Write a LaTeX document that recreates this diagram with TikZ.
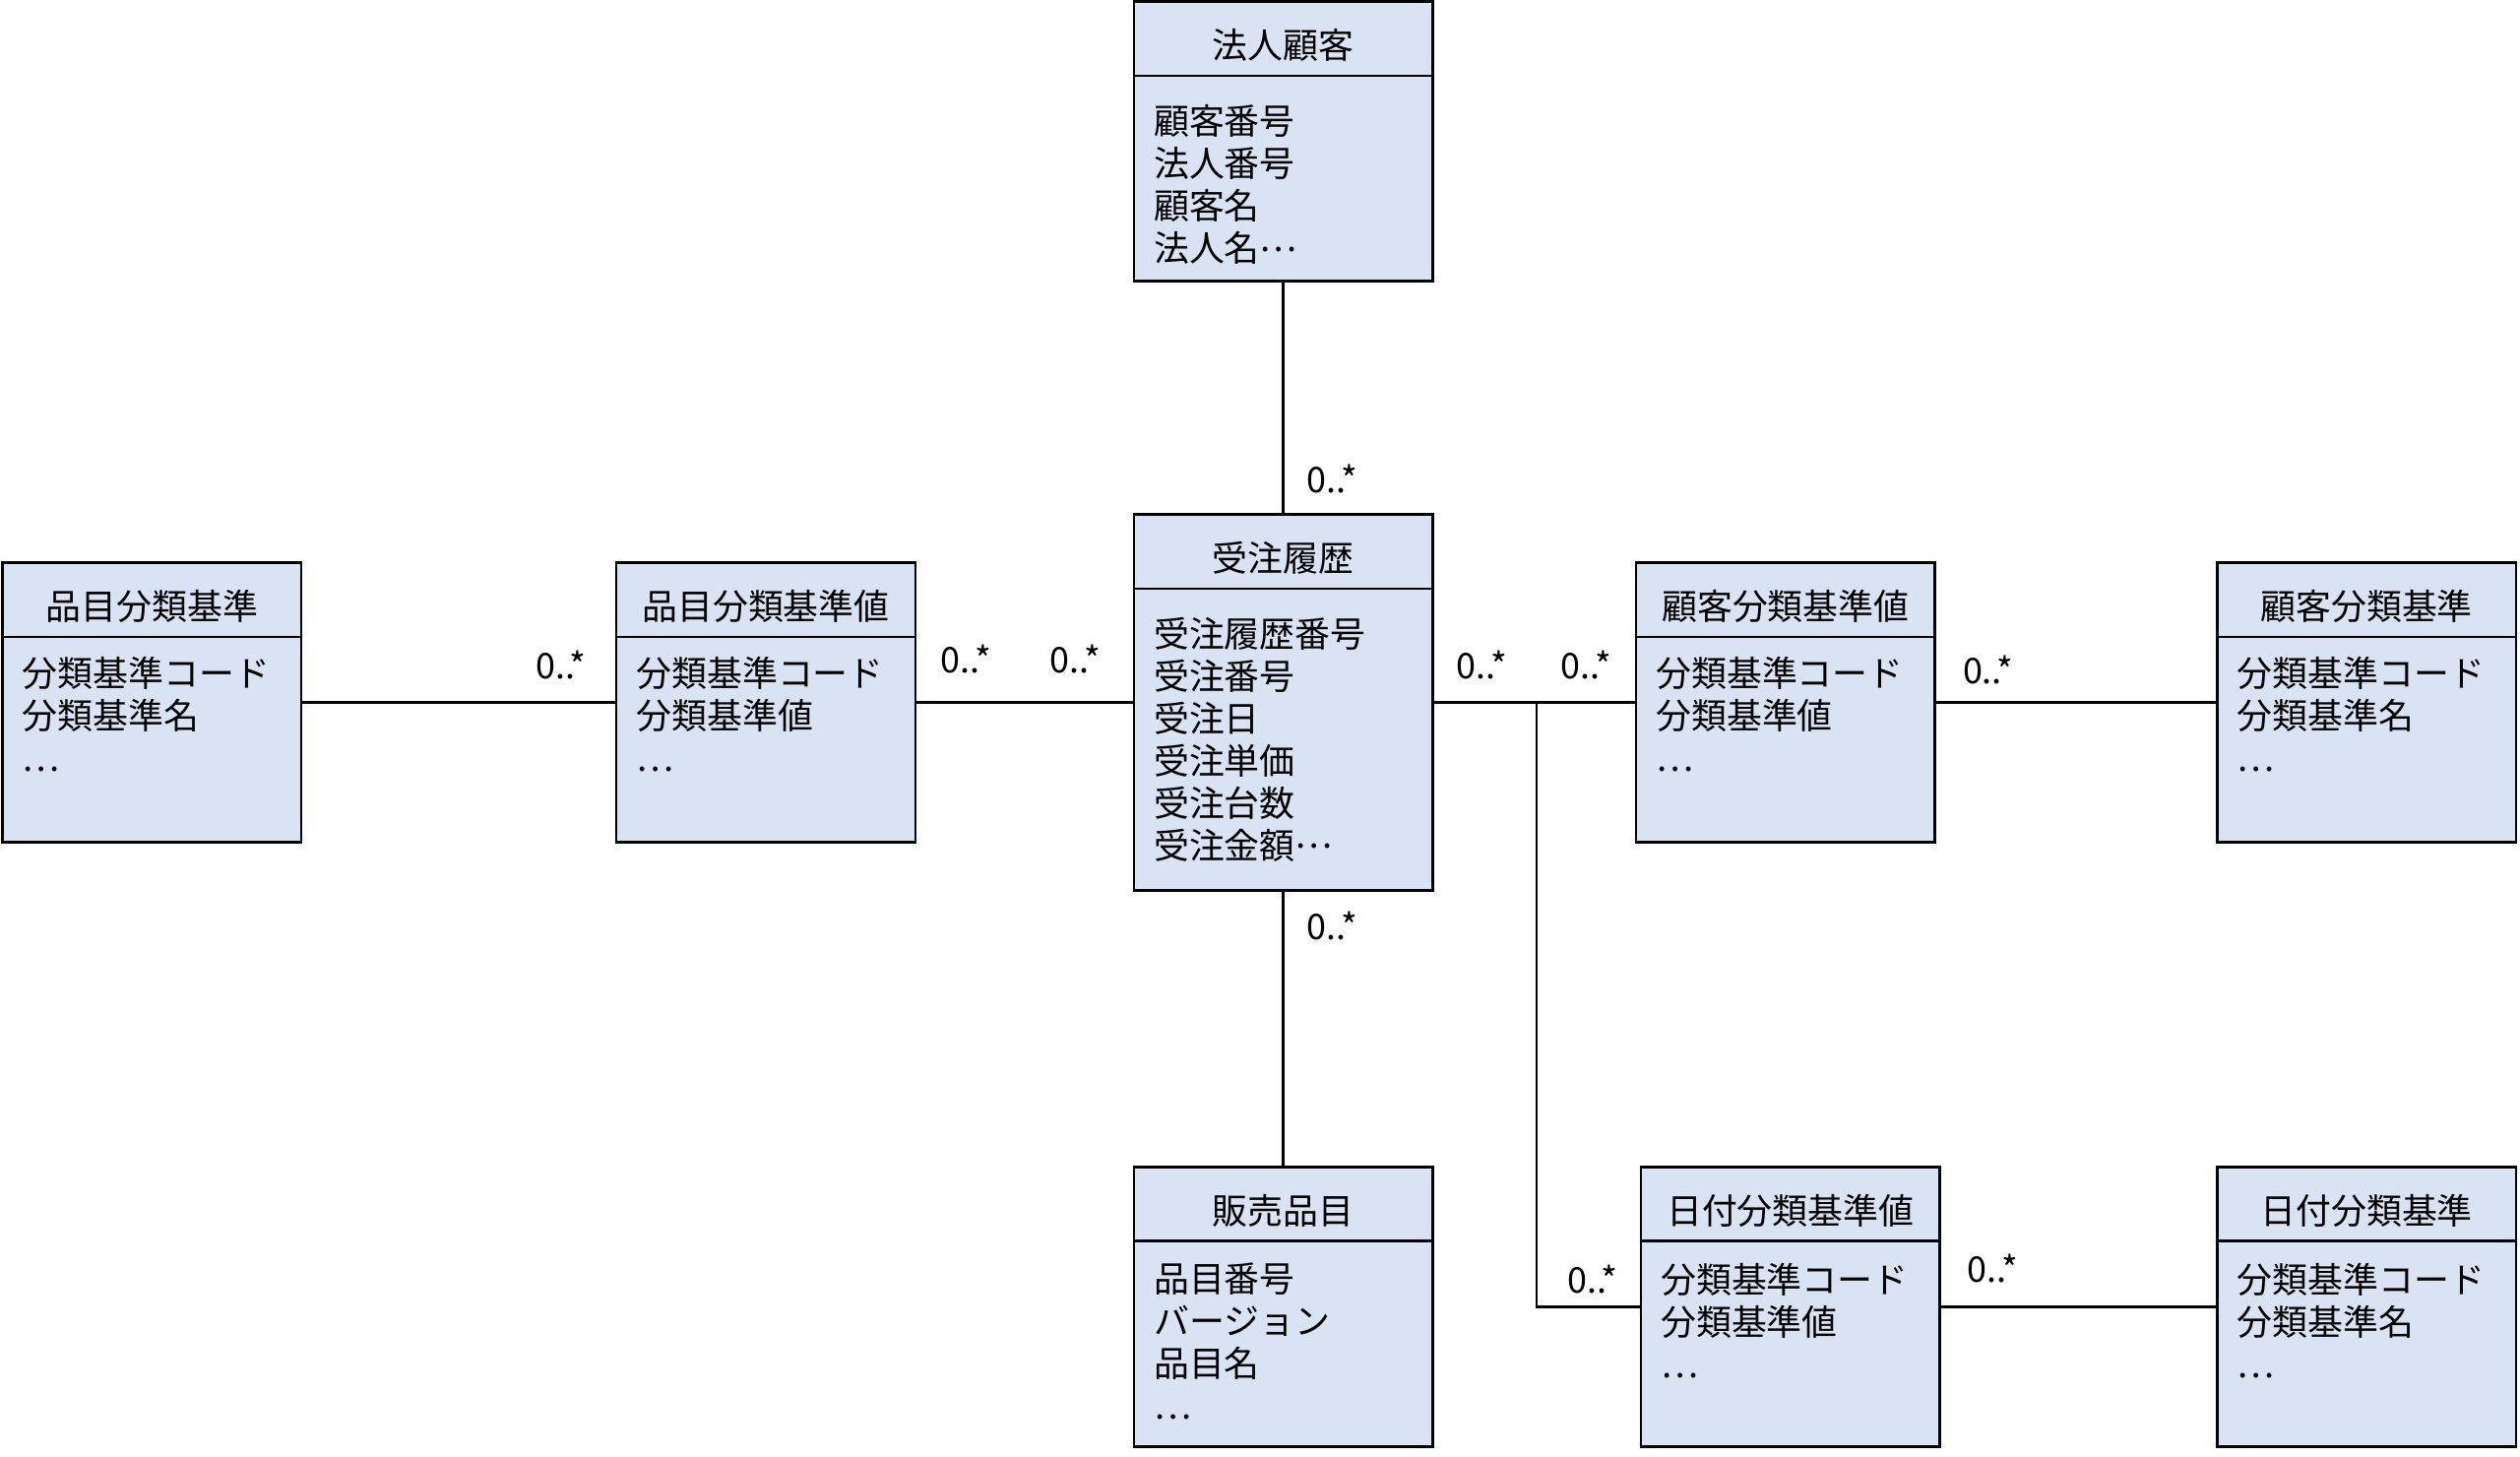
\documentclass[tikz,border=0pt]{standalone}
\usepackage{fontspec}
\setmainfont{Noto Sans CJK JP}
\usepackage{xcolor}
\definecolor{clsfill}{HTML}{DAE3F3}
\usepackage{tikz}
\usetikzlibrary{calc}

\newcommand{\jdots}{\raisebox{0.3em}{…}}

\tikzset{
  cls/.style={draw, line width=1.6pt, fill=clsfill, minimum width=186pt, inner sep=0pt},
  clstitle/.style={inner sep=0pt},
  clsbody/.style={anchor=north west, align=left, inner sep=0pt},
  assoc/.style={line width=1.5pt},
  mult/.style={inner sep=0pt},
}

\begin{document}
\begin{tikzpicture}[x=1pt, y=-1pt, font=\fontsize{22}{26.3}\selectfont]
            \useasboundingbox (0, 0) rectangle (1568, 906);
            % classes
            \node[cls, minimum height=174pt] (hojin) at (798.5, 88) {};
            \node[cls, minimum height=234pt] (juchu) at (798.5, 437) {};
            \node[cls, minimum height=174pt] (hinmokuK) at (94.5, 437) {};
            \node[cls, minimum height=174pt] (hinmokuV) at (476.5, 437) {};
            \node[cls, minimum height=174pt] (kokyakuV) at (1111, 437) {};
            \node[cls, minimum height=174pt] (kokyakuK) at (1472.5, 437) {};
            \node[cls, minimum height=174pt] (hanbai) at (798.5, 813) {};
            \node[cls, minimum height=174pt] (hizukeV) at (1114, 813) {};
            \node[cls, minimum height=174pt] (hizukeK) at (1472.5, 813) {};
            % header lines
            \foreach \c in {hojin, juchu, hinmokuK, hinmokuV, kokyakuV, kokyakuK, hanbai, hizukeV, hizukeK}
              \draw[line width=1.6pt] ($(\c.north west)+(0, 47)$) -- ($(\c.north east)+(0, 47)$);
            % titles
            \node[clstitle] (hojinT) at ($(hojin.north)+(0, 28)$) {法人顧客};
            \node[clstitle] (juchuT) at ($(juchu.north)+(0, 28)$) {受注履歴};
            \node[clstitle] (hinmokuKT) at ($(hinmokuK.north)+(0, 28)$) {品目分類基準};
            \node[clstitle] (hinmokuVT) at ($(hinmokuV.north)+(0, 28)$) {品目分類基準値};
            \node[clstitle] (kokyakuVT) at ($(kokyakuV.north)+(0, 28)$) {顧客分類基準値};
            \node[clstitle] (kokyakuKT) at ($(kokyakuK.north)+(0, 28)$) {顧客分類基準};
            \node[clstitle] (hanbaiT) at ($(hanbai.north)+(0, 28)$) {販売品目};
            \node[clstitle] (hizukeVT) at ($(hizukeV.north)+(0, 28)$) {日付分類基準値};
            \node[clstitle] (hizukeKT) at ($(hizukeK.north)+(0, 28)$) {日付分類基準};
            % attributes
            \node[clsbody] (hojinB) at ($(hojin.north west)+(13, 65)$) {顧客番号\\法人番号\\顧客名\\法人名\jdots};
            \node[clsbody] (juchuB) at ($(juchu.north west)+(13, 65)$) {受注履歴番号\\受注番号\\受注日\\受注単価\\受注台数\\受注金額\jdots};
            \node[clsbody] (hinmokuKB) at ($(hinmokuK.north west)+(13, 59.5)$) {分類基準コード\\分類基準名\\…};
            \node[clsbody] (hinmokuVB) at ($(hinmokuV.north west)+(13, 59.5)$) {分類基準コード\\分類基準値\\…};
            \node[clsbody] (kokyakuVB) at ($(kokyakuV.north west)+(13, 59.5)$) {分類基準コード\\分類基準値\\…};
            \node[clsbody] (kokyakuKB) at ($(kokyakuK.north west)+(13, 59.5)$) {分類基準コード\\分類基準名\\…};
            \node[clsbody] (hanbaiB) at ($(hanbai.north west)+(13, 60.5)$) {品目番号\\バージョン\\品目名\\…};
            \node[clsbody] (hizukeVB) at ($(hizukeV.north west)+(13, 60.5)$) {分類基準コード\\分類基準値\\…};
            \node[clsbody] (hizukeKB) at ($(hizukeK.north west)+(13, 60.5)$) {分類基準コード\\分類基準名\\…};
            % associations
            \coordinate (split) at (956, 437);
            \draw[assoc] (hojin.south) -- (juchu.north);
            \draw[assoc] (juchu.south) -- (hanbai.north);
            \draw[assoc] (hinmokuK.east) -- (hinmokuV.west);
            \draw[assoc] (hinmokuV.east) -- (juchu.west);
            \draw[assoc] (juchu.east) -- (kokyakuV.west);
            \draw[assoc] (split) |- (hizukeV.west);
            \draw[assoc] (kokyakuV.east) -- (kokyakuK.west);
            \draw[assoc] (hizukeV.east) -- (hizukeK.west);
            % multiplicities
            \node[mult] (m1) at (829, 298) {0..*};
            \node[mult] (m2) at (829, 576) {0..*};
            \node[mult] (m3) at (349, 414) {0..*};
            \node[mult] (m4) at (601, 410) {0..*};
            \node[mult] (m5) at (669, 410) {0..*};
            \node[mult] (m6) at (922, 414) {0..*};
            \node[mult] (m7) at (987, 414) {0..*};
            \node[mult] (m8) at (991, 796) {0..*};
            \node[mult] (m9) at (1237, 417) {0..*};
            \node[mult] (m10) at (1240, 789) {0..*};
        \end{tikzpicture}
\end{document}
